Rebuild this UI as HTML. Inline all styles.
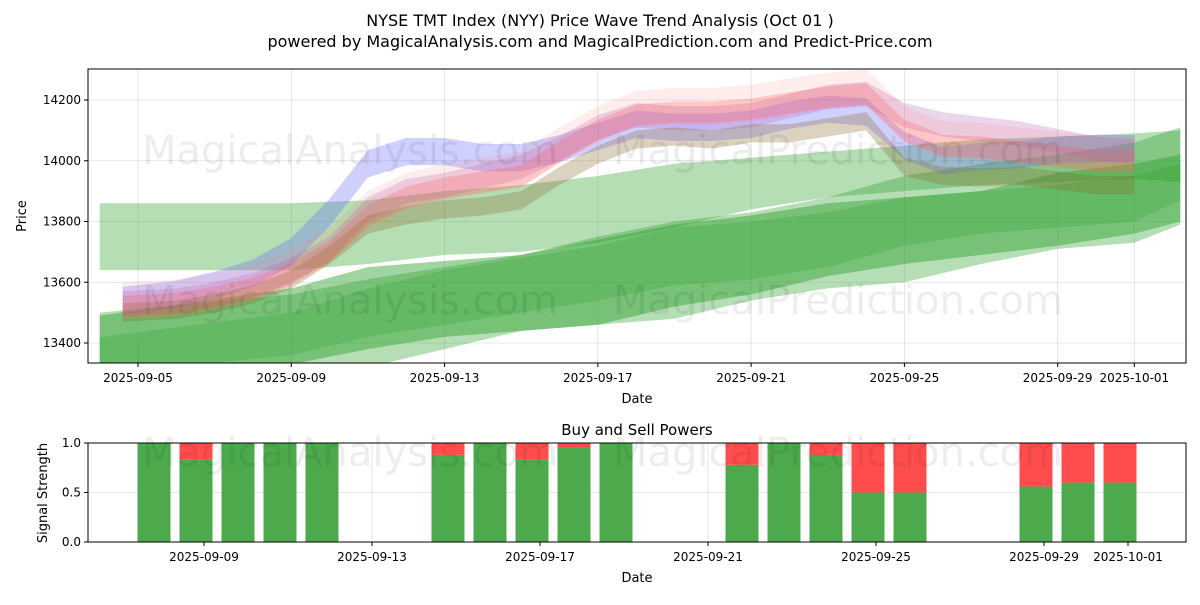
<!DOCTYPE html>
<html><head><meta charset="utf-8"><style>
body{margin:0;background:#fff;font-family:"Liberation Sans","DejaVu Sans",sans-serif}
svg text{font-family:"DejaVu Sans","Liberation Sans",sans-serif;fill:#000}
</style></head><body>
<svg id="c" width="1200" height="600" xmlns="http://www.w3.org/2000/svg">
<rect width="1200" height="600" fill="#fff"/>
<text x="600" y="26" font-size="16" text-anchor="middle">NYSE TMT Index (NYY) Price Wave Trend Analysis (Oct 01 )</text>
<text x="600" y="47" font-size="16" text-anchor="middle">powered by MagicalAnalysis.com and MagicalPrediction.com and Predict-Price.com</text>
<g id="topg"></g><g id="botg"></g>
</svg>
<script>
const tickDays=[0,4,8,12,16,20,24,26];
const tickLabels=["2025-09-05","2025-09-09","2025-09-13","2025-09-17","2025-09-21","2025-09-25","2025-09-29","2025-10-01"];
const yTicks=[13400,13600,13800,14000,14200];
const centerDays=[-0.4,1,2,3,4,5,6,7,8,9,10,11,12,13,14,15,16,17,18,19,20,21,22,23,24,25,26];
const centerVals=[13520,13540,13560,13590,13640,13720,13850,13900,13920,13940,13960,14020,14080,14130,14130,14120,14130,14150,14170,14180,14040,13990,13985,13980,13975,13980,13990];
const blueOffset=[20,20,30,40,60,110,140,130,110,70,50,20,0,-10,-20,-10,-10,0,0,-20,10,10,30,40,60,60,50];
const redOffset=[0,-10,-10,-10,-10,-20,-30,-20,-10,-10,-10,10,20,20,30,40,40,40,40,40,60,60,60,50,40,20,10];
const purpleOffset=[10,0,0,0,0,-10,-10,0,0,10,20,20,30,20,10,20,20,30,40,40,110,130,120,110,90,60,40];
const brownOffset=[-20,-30,-30,-30,-30,-30,-60,-80,-80,-90,-90,-70,-60,-60,-50,-50,-40,-60,-60,-50,-60,-40,-40,-30,-40,-60,-70];
const gDays=[-1,4,6,8,10,12,14,16,18,20,22,24,26,27.2];
const g1Hi=[13860,13860,13870,13900,13920,13950,13990,14010,14030,14050,14070,14080,14090,14100];
const g1Lo=[13640,13640,13660,13690,13700,13730,13780,13840,13880,13900,13920,13930,13940,13930];
const g2Hi=[13490,13580,13650,13670,13690,13740,13790,13820,13860,13880,13900,13960,13990,14020];
const g2Lo=[13300,13330,13380,13420,13440,13460,13520,13560,13620,13660,13690,13720,13760,13800];
const g3Hi=[13500,13560,13610,13650,13690,13750,13800,13830,13880,13950,13990,14020,14060,14110];
const g3Lo=[13300,13300,13320,13380,13440,13460,13480,13540,13580,13600,13660,13710,13730,13790];
const g4Hi=[13420,13500,13580,13640,13680,13720,13780,13800,13830,13880,13900,13920,13950,13990];
const g4Lo=[13300,13360,13420,13460,13500,13540,13590,13610,13650,13720,13760,13780,13800,13870];
const buyDays=[3,4,5,6,7,10,11,12,13,14,17,18,19,20,21,24,25,26];
const buyVals=[1,0.83,1,1,1,0.88,1,0.83,0.95,1,0.78,1,0.88,0.5,0.5,0.56,0.6,0.6];
const NS="http://www.w3.org/2000/svg";
function mk(t,a,p){const e=document.createElementNS(NS,t);for(const k in a)e.setAttribute(k,a[k]);p.appendChild(e);return e;}
const T={l:88,r:1186,t:69,b:363},B={l:88,r:1186,t:443,b:542};
const X=d=>138+d*38.32, Y=v=>100+(14200-v)*0.30375;
const XB=d=>204+(d-4)*42, YB=v=>542-v*99;
const topG=document.getElementById('topg'),botG=document.getElementById('botg'),svgRoot=document.getElementById('c');
const cp=mk('clipPath',{id:'ct'},topG);
mk('rect',{x:T.l,y:T.t,width:T.r-T.l,height:T.b-T.t},cp);
tickDays.forEach((d,i)=>{const l=mk('line',{x1:X(d),x2:X(d),y1:T.t,y2:T.b,stroke:'#ccc','stroke-width':0.8,opacity:0.6},topG);


mk('line',{x1:X(d),x2:X(d),y1:T.b,y2:T.b+4,stroke:'#000'},topG);
const t=mk('text',{x:X(d),y:T.b+19,'font-size':12,'text-anchor':'middle'},topG);t.textContent=tickLabels[i];

});
yTicks.forEach(v=>{const l=mk('line',{x1:T.l,x2:T.r,y1:Y(v),y2:Y(v),stroke:'#ccc','stroke-width':0.8,opacity:0.6},topG);


mk('line',{x1:T.l-4,x2:T.l,y1:Y(v),y2:Y(v),stroke:'#000'},topG);
const t=mk('text',{x:T.l-7,y:Y(v)+4,'font-size':12,'text-anchor':'end'},topG);t.textContent=v;

});
const gb=mk('g',{'clip-path':'url(#ct)'},topG);
function band(days,hi,lo,fill,op,name){let pts=days.map((d,i)=>X(d)+','+Y(hi[i]));for(let i=days.length-1;i>=0;i--)pts.push(X(days[i])+','+Y(lo[i]));
const p=mk('polygon',{points:pts.join(' '),fill:fill,'fill-opacity':op},gb);

}
band(gDays,g1Hi,g1Lo,'#2ca02c',0.35,'green-band-upper');
band(gDays,g3Hi,g3Lo,'#2ca02c',0.35,'green-band-lower-wide');
band(gDays,g2Hi,g2Lo,'#2ca02c',0.45,'green-band-lower');
band(gDays,g4Hi,g4Lo,'#2ca02c',0.25,'green-band-core');
function series(off,w,fill,op,name){const hi=centerVals.map((v,i)=>v+off[i]+w),lo=centerVals.map((v,i)=>v+off[i]-w);band(centerDays,hi,lo,fill,op,name);}
series(blueOffset,45,'#6464ff',0.3,'blue-band');
series(purpleOffset,40,'#b05ab0',0.25,'purple-band');
series(redOffset,35,'#ff5050',0.25,'red-band');
series(brownOffset,30,'#8a6a30',0.3,'brown-band');
series(redOffset.map(v=>v+20),60,'#ff8080',0.15,'pink-band');
mk('rect',{x:T.l,y:T.t,width:T.r-T.l,height:T.b-T.t,fill:'none',stroke:'#000','stroke-width':1},topG);
let t=mk('text',{x:637,y:403,'font-size':13,'text-anchor':'middle'},topG);t.textContent='Date';


t=mk('text',{x:26,y:216,'font-size':13,'text-anchor':'middle',transform:'rotate(-90 26 216)'},topG);t.textContent='Price';


t=mk('text',{x:637,y:435,'font-size':15,'text-anchor':'middle'},botG);t.textContent='Buy and Sell Powers';


[0,0.5,1].forEach(v=>{const l=mk('line',{x1:B.l,x2:B.r,y1:YB(v),y2:YB(v),stroke:'#ccc','stroke-width':0.8,opacity:0.6},botG);


mk('line',{x1:B.l-4,x2:B.l,y1:YB(v),y2:YB(v),stroke:'#000'},botG);
const s=mk('text',{x:B.l-7,y:YB(v)+4,'font-size':12,'text-anchor':'end'},botG);s.textContent=v.toFixed(1);

});
tickDays.slice(1).forEach((d,i)=>{const l=mk('line',{x1:XB(d),x2:XB(d),y1:B.t,y2:B.b,stroke:'#ccc','stroke-width':0.8,opacity:0.6},botG);


mk('line',{x1:XB(d),x2:XB(d),y1:B.b,y2:B.b+4,stroke:'#000'},botG);
const s=mk('text',{x:XB(d),y:B.b+19,'font-size':12,'text-anchor':'middle'},botG);s.textContent=tickLabels[i+1];

});
buyDays.forEach((d,i)=>{const x=XB(d)-8-16.5,v=buyVals[i];
const b=mk('rect',{x:x,y:YB(v),width:33,height:YB(0)-YB(v),fill:'#4caa4c'},botG);


const s=mk('rect',{x:x,y:YB(1),width:33,height:YB(v)-YB(1),fill:'#ff4d4d'},botG);

});
mk('rect',{x:B.l,y:B.t,width:B.r-B.l,height:B.b-B.t,fill:'none',stroke:'#000','stroke-width':1},botG);
t=mk('text',{x:637,y:582,'font-size':13,'text-anchor':'middle'},botG);t.textContent='Date';


t=mk('text',{x:47,y:493,'font-size':13,'text-anchor':'middle',transform:'rotate(-90 47 493)'},botG);t.textContent='Signal Strength';


[[350,150,'MagicalAnalysis.com'],[838,150,'MagicalPrediction.com'],[350,300,'MagicalAnalysis.com'],[838,300,'MagicalPrediction.com'],[350,452,'MagicalAnalysis.com'],[838,452,'MagicalPrediction.com']].forEach(w=>{
const wt=mk('text',{x:w[0],y:w[1]+14,'font-size':40,'text-anchor':'middle'},svgRoot);wt.style.fill='rgba(0,0,0,0.07)';wt.textContent=w[2];

});
</script>
</body></html>
